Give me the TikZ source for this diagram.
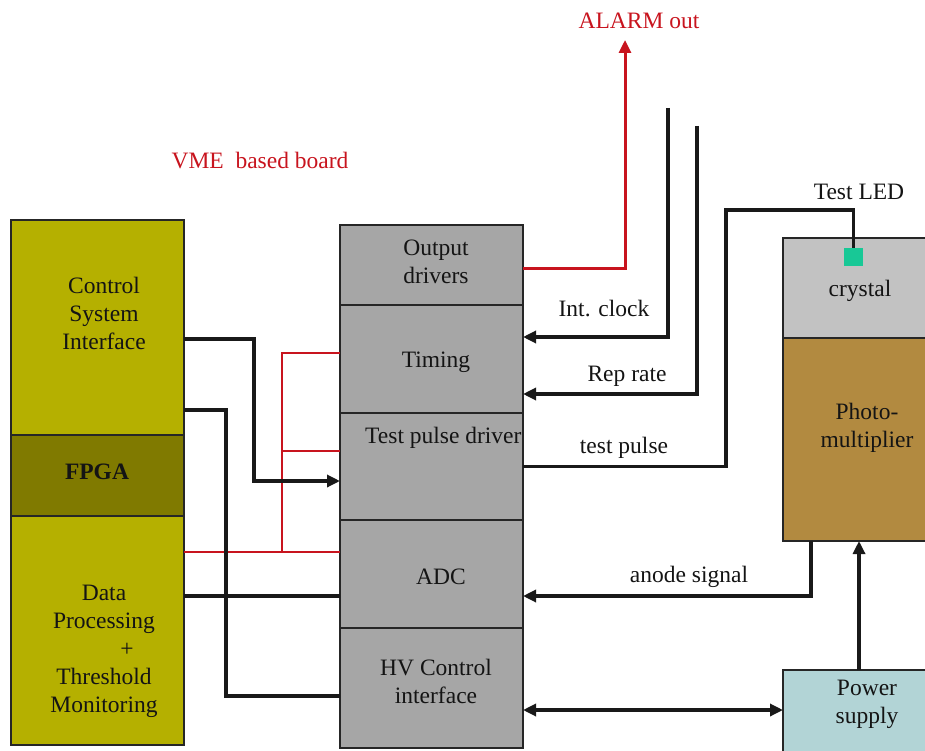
\documentclass[tikz,border=0pt]{standalone}
\usepackage{fontspec}
\setmainfont{Liberation Serif}
\usetikzlibrary{arrows.meta,calc}
\definecolor{olivebox}{RGB}{181,176,0}
\definecolor{fpgac}{RGB}{128,122,0}
\definecolor{midgray}{RGB}{166,166,166}
\definecolor{crystalc}{RGB}{194,194,194}
\definecolor{pmc}{RGB}{178,138,64}
\definecolor{psc}{RGB}{178,212,214}
\definecolor{ledc}{RGB}{24,200,150}
\definecolor{alarmred}{RGB}{200,20,30}
\begin{document}
\begin{tikzpicture}[x=1pt,y=-1pt,
 box/.style={draw=black!85, line width=2.6pt, inner sep=0pt, outer sep=0pt},
 txt/.style={font=\fontsize{23.5}{28}\selectfont, align=center, inner sep=0pt, text=black!92},
 conn/.style={line width=3.2pt, black!90},
 redl/.style={line width=2pt, alarmred},
 tip/.style={-{Triangle[length=13pt,width=12pt]}},
 dtip/.style={{Triangle[length=13pt,width=12pt]}-{Triangle[length=13pt,width=12pt]}}]
\clip (0,0) rectangle (925,751);
% left column
\node[box, fill=olivebox, minimum width=173pt, minimum height=215pt] (csi) at (97.5,327.5) {};
\node[box, fill=fpgac, minimum width=173pt, minimum height=81pt] (fpga) at (97.5,475.5) {};
\node[box, fill=olivebox, minimum width=173pt, minimum height=229pt] (dp) at (97.5,630.5) {};
% middle column
\node[box, fill=midgray, minimum width=183pt, minimum height=80pt] (out) at (431.5,265) {};
\node[box, fill=midgray, minimum width=183pt, minimum height=108pt] (tim) at (431.5,359) {};
\node[box, fill=midgray, minimum width=183pt, minimum height=107pt] (tp) at (431.5,466.5) {};
\node[box, fill=midgray, minimum width=183pt, minimum height=108pt] (adc) at (431.5,574) {};
\node[box, fill=midgray, minimum width=183pt, minimum height=120pt] (hv) at (431.5,688) {};
% right column
\node[box, fill=crystalc, minimum width=168pt, minimum height=100pt] (cry) at (867,288) {};
\node[box, fill=pmc, minimum width=168pt, minimum height=203pt] (pm) at (867,439.5) {};
\node[box, fill=psc, minimum width=168pt, minimum height=110pt] (ps) at (867,725) {};
\node[fill=ledc, minimum width=19pt, minimum height=18pt, inner sep=0pt, outer sep=0pt] (led) at (853.5,257) {};
% texts
\node[txt] (tcsi) at (104,313) {Control\\System\\Interface};
\node[txt, font={\fontsize{23.5}{28}\selectfont\bfseries}] (tfpga) at (97,472) {FPGA};
\node[txt] (tdp) at (104,651) {Data\\Processing\\\hspace*{46pt}+\\Threshold\\Monitoring};
\node[txt] (tout) at (436,262) {Output\\drivers};
\node[txt] (ttim) at (436,362) {Timing};
\node[txt, anchor=west] (ttp) at (365,438) {Test pulse driver};
\node[txt] (tadc) at (441,577) {ADC};
\node[txt] (thv) at (436,681) {HV Control\\interface};
\node[txt] (lclk) at (604,309) {Int. clock};
\node[txt] (lrep) at (627,376) {Rep rate};
\node[txt] (ltp) at (624,448) {test pulse};
\node[txt] (lan) at (689,577) {anode signal};
\node[txt] (lled) at (859,192) {Test LED};
\node[txt] (tcry) at (860,291) {crystal};
\node[txt] (tpm) at (867,428) {Photo-\\multiplier};
\node[txt] (tps) at (867,704) {Power\\supply};
\node[txt, text=alarmred] (alarm) at (639,21) {ALARM out};
\node[txt, text=alarmred] (vme) at (260,161) {VME\ \ based board};
% red lines
\draw[redl] ([yshift=78.5pt]dp.east) -- ([yshift=22pt]adc.west);
\draw[redl] ([yshift=6pt]tim.west) -- ++(-58,0) |- ([yshift=22pt]adc.west);
\draw[redl] ([yshift=15.5pt]tp.west) -- ++(-58,0);
% left connectors
\draw[conn, tip] ([yshift=-11.5pt]csi.east) -- ++(70,0) |- ([yshift=-14.5pt]tp.west);
\draw[conn] ([yshift=-82.5pt]csi.east) -- ++(42,0) |- ([yshift=-8pt]hv.west);
\draw[conn] ([yshift=34.5pt]dp.east) -- ([yshift=-22pt]adc.west);
% alarm
\coordinate (alarmtip) at (625,40);
\draw[line width=3pt, alarmred, tip] ([yshift=-3pt]out.east) -| (alarmtip);
% right connectors
\coordinate (clktop) at (668,108);
\coordinate (reptop) at (697,126);
\draw[conn, tip] (clktop) |- ([yshift=22pt]tim.east);
\draw[conn, tip] (reptop) |- ([yshift=-35pt]tim.east);
\draw[conn] (tp.east) -- ++(203,0) |- ([yshift=38pt]led.north) -- (led.north);
\draw[conn, tip] ([xshift=-56pt]pm.south) |- ([yshift=-22pt]adc.east);
\draw[conn, dtip] ([yshift=-22pt]hv.east) -- ([yshift=15pt]ps.west);
\draw[conn, tip] ([xshift=-8pt]ps.north) -- ([xshift=-8pt]pm.south);
\end{tikzpicture}
\end{document}
